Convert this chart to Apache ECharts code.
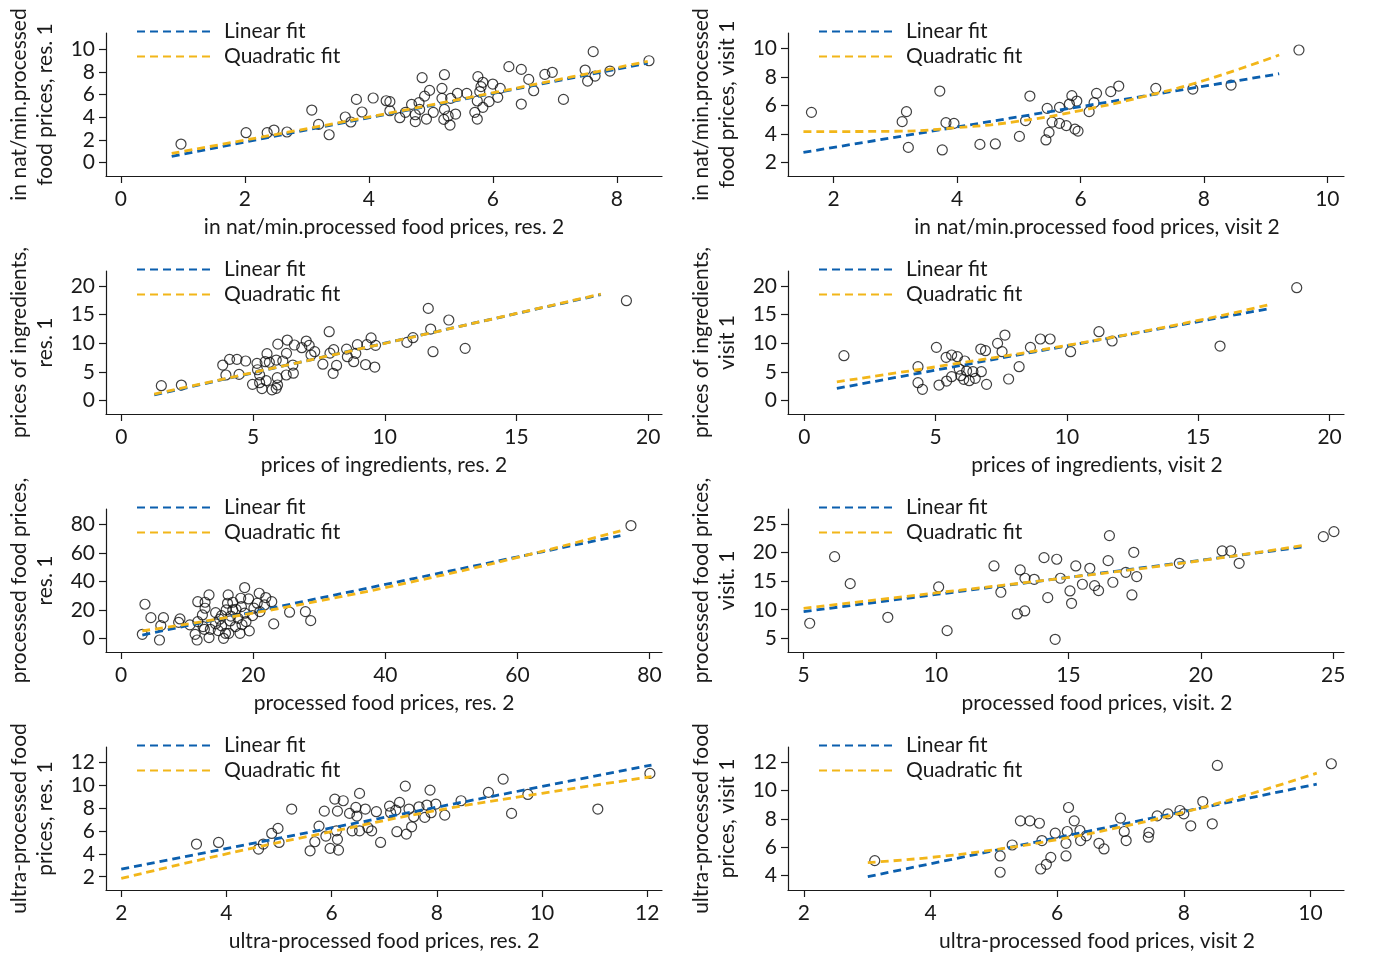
<!DOCTYPE html>
<html>
<head>
<meta charset="utf-8">
<script src="https://cdn.jsdelivr.net/npm/echarts@6/dist/echarts.min.js"></script>
<style>
html,body{margin:0;padding:0;background:#fff;}
#chart{width:1386px;height:953px;}
</style>
</head>
<body>
<div id="chart"></div>
<script>
// ---------- DATA ----------
const legendNames = ['Linear fit', 'Quadratic fit'];

const xTitles = [
  'in nat/min.processed food prices, res. 2',
  'in nat/min.processed food prices, visit 2',
  'prices of ingredients, res. 2',
  'prices of ingredients, visit 2',
  'processed food prices, res. 2',
  'processed food prices, visit. 2',
  'ultra-processed food prices, res. 2',
  'ultra-processed food prices, visit 2'
];
const yTitles = [
  'in nat/min.processed\nfood prices, res. 1',
  'in nat/min.processed\nfood prices, visit 1',
  'prices of ingredients,\nres. 1',
  'prices of ingredients,\nvisit 1',
  'processed food prices,\nres. 1',
  'processed food prices,\nvisit. 1',
  'ultra-processed food\nprices, res. 1',
  'ultra-processed food\nprices, visit 1'
];

const xTicks = [
  [0, 2, 4, 6, 8],
  [2, 4, 6, 8, 10],
  [0, 5, 10, 15, 20],
  [0, 5, 10, 15, 20],
  [0, 20, 40, 60, 80],
  [5, 10, 15, 20, 25],
  [2, 4, 6, 8, 10, 12],
  [2, 4, 6, 8, 10]
];
const yTicks = [
  [0, 2, 4, 6, 8, 10],
  [2, 4, 6, 8, 10],
  [0, 5, 10, 15, 20],
  [0, 5, 10, 15, 20],
  [0, 20, 40, 60, 80],
  [5, 10, 15, 20, 25],
  [2, 4, 6, 8, 10, 12],
  [4, 6, 8, 10, 12]
];
const xRanges = [[-0.24, 8.73], [1.26, 10.27], [-0.58, 20.52], [-0.62, 20.55], [-2.3, 81.9], [4.41, 25.41], [1.71, 12.28], [1.75, 10.53]];
const yRanges = [[-1.17, 11.41], [1.07, 11.07], [-2.32, 22.62], [-2.32, 22.62], [-9.6, 90.7], [2.6, 27.64], [0.84, 13.35], [2.99, 13.06]];

const p1Pts = [[0.97,1.64],[2.02,2.64],[2.36,2.64],[2.47,2.87],[2.68,2.7],[3.08,4.63],[3.19,3.37],[3.36,2.46],[3.62,4.02],[3.71,3.58],[3.8,5.57],[3.89,4.46],[4.07,5.69],[4.28,5.45],[4.34,5.37],[4.34,4.57],[4.5,3.96],[4.59,4.43],[4.69,5.13],[4.75,4.22],[4.75,3.61],[4.81,5.28],[4.82,4.69],[4.86,7.48],[4.9,5.86],[4.93,3.84],[4.98,6.36],[5.04,4.43],[5.18,6.54],[5.18,5.66],[5.22,7.74],[5.22,4.69],[5.21,3.81],[5.28,4.11],[5.31,3.31],[5.32,5.66],[5.43,6.1],[5.4,4.28],[5.58,6.1],[5.71,4.43],[5.76,7.57],[5.75,3.84],[5.75,5.43],[5.79,6.25],[5.81,6.69],[5.84,7.07],[5.84,4.87],[5.94,5.37],[6.0,6.92],[6.08,5.75],[6.12,6.54],[6.26,8.45],[6.46,8.21],[6.46,5.16],[6.58,7.33],[6.66,6.33],[6.84,7.77],[6.96,7.95],[7.14,5.57],[7.49,8.15],[7.53,7.18],[7.62,9.77],[7.65,7.62],[7.89,8.06],[8.52,8.97]];
const p1Lin = [[0.82,0.56],[8.5,8.76]];
const p1Quad = [[0.82,0.82],[4.6,4.65],[8.5,8.92]];

const p2Pts = [[1.64,5.52],[3.11,4.87],[3.18,5.57],[3.21,3.07],[3.72,7.01],[3.76,2.89],[3.82,4.8],[3.95,4.75],[4.37,3.28],[4.62,3.31],[5.01,3.84],[5.11,4.94],[5.18,6.66],[5.44,3.59],[5.46,5.8],[5.49,4.12],[5.54,4.84],[5.66,5.87],[5.66,4.75],[5.77,4.59],[5.82,6.1],[5.86,6.69],[5.91,4.35],[5.94,6.31],[5.96,4.21],[6.14,5.57],[6.22,6.2],[6.26,6.85],[6.49,6.97],[6.62,7.36],[7.22,7.2],[7.82,7.15],[8.44,7.43],[9.54,9.88]];
const p2Lin = [[1.51,2.72],[9.22,8.22]];
const p2Quad = [[1.51,4.17],[3,4.2],[4,4.45],[5,4.9],[6,5.65],[7,6.6],[8,7.75],[9.22,9.53]];

const p3Pts = [[1.52,2.62],[2.28,2.73],[3.85,6.22],[3.97,4.48],[4.11,7.21],[4.39,7.21],[4.47,4.59],[4.72,6.92],[4.98,2.85],[5.15,6.51],[5.17,5.4],[5.25,4.49],[5.25,3.14],[5.34,2.1],[5.46,6.8],[5.5,3.49],[5.53,8.2],[5.62,6.69],[5.72,1.9],[5.88,7.09],[5.92,4.01],[5.93,2.74],[5.88,2.16],[5.94,9.86],[6.13,6.92],[6.26,4.48],[6.27,8.26],[6.3,10.58],[6.51,6.22],[6.53,4.8],[6.57,9.71],[6.85,9.24],[7.02,10.4],[7.13,9.65],[7.2,7.97],[7.34,8.55],[7.65,6.37],[7.89,12.03],[7.92,8.29],[8.06,8.9],[8.04,4.78],[8.17,6.15],[8.55,9.0],[8.58,7.67],[8.82,6.8],[8.9,8.26],[8.96,9.78],[9.27,6.3],[9.32,9.78],[9.48,10.95],[9.65,9.65],[9.62,5.87],[10.84,10.17],[11.07,10.99],[11.65,16.1],[11.74,12.5],[11.83,8.55],[12.43,14.07],[13.05,9.13],[19.17,17.44]];
const p3Lin = [[1.25,1.0],[18.2,18.5]];
const p3Quad = [[1.25,1.15],[9.7,9.7],[18.2,18.6]];

const p4Pts = [[1.51,7.85],[4.33,5.93],[4.33,3.14],[4.5,1.98],[5.03,9.3],[5.13,2.73],[5.4,7.56],[5.42,3.43],[5.61,7.97],[5.61,4.19],[5.83,7.67],[5.9,5.52],[5.96,4.36],[6.07,3.72],[6.11,6.92],[6.18,5.17],[6.28,3.49],[6.42,5.06],[6.51,3.9],[6.72,9.01],[6.74,5.06],[6.9,8.72],[6.94,2.85],[7.36,10.0],[7.53,8.55],[7.64,11.45],[7.78,3.78],[8.18,5.93],[8.61,9.3],[8.99,10.76],[9.36,10.76],[10.14,8.55],[11.22,12.03],[11.72,10.41],[15.83,9.53],[18.75,19.71]];
const p4Lin = [[1.24,2.15],[17.74,16.1]];
const p4Quad = [[1.24,3.3],[5,5.9],[10,9.65],[15,14.0],[17.74,16.8]];

const p5Pts = [[3.2,2.8],[3.6,23.9],[4.5,14.5],[5.8,-1.2],[6.0,8.9],[6.4,14.5],[8.9,13.6],[8.7,11.2],[10.4,9.4],[11.2,2.8],[11.5,-1.2],[11.6,25.7],[11.6,11.7],[12.3,16.4],[12.6,6.3],[12.7,25.3],[12.7,21.1],[13.3,30.4],[13.3,0.5],[13.5,6.3],[14.3,18.0],[14.3,10.1],[14.7,5.4],[15.2,15.9],[15.2,8.7],[15.5,0.0],[15.8,3.5],[15.9,19.9],[16.2,30.4],[16.1,24.6],[16.3,3.5],[16.5,12.2],[16.9,25.3],[16.9,19.9],[17.3,8.2],[17.7,14.0],[18.0,3.5],[18.1,28.1],[18.2,22.2],[18.7,35.6],[18.7,17.6],[18.9,11.7],[19.3,27.6],[19.4,5.2],[19.9,15.9],[20.6,24.6],[20.9,31.6],[21.0,18.7],[21.7,23.4],[21.9,28.6],[22.8,25.7],[23.1,10.1],[25.5,18.3],[27.9,18.7],[28.7,12.4],[77.2,79.1],[12.4,8.2],[14.9,13.4],[16.6,15.6],[17.4,20.3],[18.3,9.6],[20.1,21.2]];
const p5Lin = [[3.2,2.3],[75.6,72.1]];
const p5Quad = [[3.2,5.2],[15,13.8],[30,26.3],[45,40.6],[60,56.7],[75.6,75.4]];

const p6Pts = [[5.23,7.63],[6.17,19.3],[6.76,14.57],[8.18,8.68],[10.1,13.99],[10.42,6.34],[12.19,17.67],[12.45,13.06],[13.07,9.26],[13.18,16.97],[13.35,9.79],[13.36,15.51],[13.71,15.33],[14.08,19.13],[14.22,12.12],[14.5,4.82],[14.56,18.84],[14.7,15.51],[15.06,13.29],[15.12,11.13],[15.28,17.67],[15.53,14.46],[15.81,17.26],[15.99,14.22],[16.14,13.35],[16.5,18.6],[16.55,22.98],[16.68,14.81],[17.17,16.56],[17.4,12.59],[17.47,20.06],[17.58,15.8],[19.19,18.13],[20.81,20.3],[21.13,20.3],[21.45,18.13],[24.63,22.8],[25.03,23.68]];
const p6Lin = [[5.0,9.67],[23.96,21.05]];
const p6Quad = [[5.0,10.25],[10,12.95],[15,15.65],[20,18.6],[23.96,21.35]];

const p7Pts = [[3.43,4.86],[3.85,5.0],[4.61,4.42],[4.7,4.86],[4.86,5.79],[4.98,6.23],[5.0,5.0],[5.24,7.92],[5.59,4.27],[5.68,5.06],[5.76,6.43],[5.86,7.74],[5.89,5.56],[5.97,4.48],[6.06,8.79],[6.09,6.02],[6.11,7.74],[6.11,5.27],[6.13,4.33],[6.22,8.65],[6.34,7.54],[6.39,6.02],[6.46,8.06],[6.48,7.31],[6.53,9.29],[6.53,6.02],[6.64,7.92],[6.69,6.29],[6.76,6.02],[6.85,7.69],[6.93,5.0],[7.1,8.18],[7.12,7.6],[7.22,7.83],[7.24,5.94],[7.29,8.5],[7.4,9.93],[7.42,5.73],[7.47,7.92],[7.52,6.37],[7.56,7.25],[7.66,8.12],[7.77,7.19],[7.81,8.27],[7.87,9.58],[7.89,7.6],[7.98,8.35],[8.15,7.39],[8.46,8.65],[8.98,9.38],[9.26,10.54],[9.42,7.54],[9.73,9.2],[11.06,7.92],[12.05,11.04]];
const p7Lin = [[2.0,2.67],[12.08,11.77]];
const p7Quad = [[2.0,1.85],[4,4.0],[6,5.95],[8,7.8],[10,9.3],[12.08,10.75]];

const p8Pts = [[3.12,5.06],[5.1,5.39],[5.1,4.24],[5.29,6.16],[5.42,7.86],[5.57,7.86],[5.72,7.69],[5.74,4.47],[5.76,6.47],[5.83,4.8],[5.9,5.29],[5.97,6.99],[6.14,6.28],[6.14,5.39],[6.16,7.11],[6.18,8.8],[6.27,7.86],[6.36,7.18],[6.37,6.47],[6.46,6.8],[6.66,6.28],[6.74,5.88],[7.0,8.05],[7.06,7.11],[7.09,6.47],[7.44,6.71],[7.45,7.04],[7.58,8.21],[7.75,8.35],[7.94,8.59],[8.0,8.35],[8.11,7.51],[8.3,9.22],[8.45,7.65],[8.53,11.76],[10.33,11.88]];
const p8Lin = [[3.01,3.93],[10.1,10.45]];
const p8Quad = [[3.01,4.92],[4,5.28],[5,5.82],[6,6.54],[7,7.42],[8,8.47],[9,9.69],[10.1,11.22]];

const scatterData = [p1Pts, p2Pts, p3Pts, p4Pts, p5Pts, p6Pts, p7Pts, p8Pts];
const linData = [p1Lin, p2Lin, p3Lin, p4Lin, p5Lin, p6Lin, p7Lin, p8Lin];
const quadData = [p1Quad, p2Quad, p3Quad, p4Quad, p5Quad, p6Quad, p7Quad, p8Quad];

// ---------- LAYOUT / STYLE ----------
const FONT = 'Lato';
const FS = 21;
const TXT = '#1a1a1a';
const BLUE = '#0b5fae';
const YELLOW = '#f2b619';
const colLeft = [106, 788];
const xNameShift = [0, 62];
const plotW = 556;
const plotH = 143;
const rowTop0 = 33;
const rowStep = 238;

const grids = [], xAxes = [], yAxes = [], series = [], legends = [];
for (let i = 0; i < 8; i++) {
  const c = i % 2, r = Math.floor(i / 2);
  const top = rowTop0 + r * rowStep;
  grids.push({left: colLeft[c], top: top, width: plotW, height: plotH});
  const axisCommon = {
    axisLine: {show: true, onZero: false, lineStyle: {color: TXT, width: 1.2}},
    splitLine: {show: false},
    nameLocation: 'middle'
  };
  xAxes.push(Object.assign({}, axisCommon, {
    type: 'value', gridIndex: i, min: xRanges[i][0], max: xRanges[i][1],
    axisTick: {show: true, length: 7, customValues: xTicks[i], lineStyle: {color: TXT, width: 1.2}},
    axisLabel: {customValues: xTicks[i], margin: 13, fontFamily: FONT, fontSize: FS, color: TXT},
    name: xTitles[i], nameGap: 41,
    nameTextStyle: {fontFamily: FONT, fontSize: FS, color: TXT, padding: [0, 0, 0, xNameShift[c]]}
  }));
  yAxes.push(Object.assign({}, axisCommon, {
    type: 'value', gridIndex: i, min: yRanges[i][0], max: yRanges[i][1],
    axisTick: {show: true, length: 7, customValues: yTicks[i], lineStyle: {color: TXT, width: 1.2}},
    axisLabel: {customValues: yTicks[i], margin: 11, fontFamily: FONT, fontSize: FS, color: TXT},
    name: yTitles[i], nameGap: 48, nameRotate: 90,
    nameTextStyle: {fontFamily: FONT, fontSize: FS, color: TXT, lineHeight: 26}
  }));
  series.push({
    type: 'scatter', xAxisIndex: i, yAxisIndex: i, data: scatterData[i],
    symbol: 'circle', symbolSize: 10,
    itemStyle: {color: 'rgba(255,255,255,0)', borderColor: '#111', borderWidth: 1.2},
    silent: true, z: 2
  });
  series.push({
    name: legendNames[0], type: 'line', xAxisIndex: i, yAxisIndex: i, data: linData[i],
    symbol: 'none', showSymbol: false,
    lineStyle: {color: BLUE, width: 2.8, type: [8, 5]}, itemStyle: {color: BLUE},
    silent: true, z: 3
  });
  series.push({
    name: legendNames[1], type: 'line', xAxisIndex: i, yAxisIndex: i, data: quadData[i],
    symbol: 'none', showSymbol: false, smooth: true,
    lineStyle: {color: YELLOW, width: 2.8, type: [8, 5]}, itemStyle: {color: YELLOW},
    silent: true, z: 4
  });
  legends.push({
    data: legendNames, orient: 'vertical', selectedMode: false,
    left: colLeft[c] + 30, top: top - 12,
    itemWidth: 77, itemHeight: 14, itemGap: 4,
    itemStyle: {opacity: 0},
    textStyle: {fontFamily: FONT, fontSize: FS, color: TXT, lineHeight: 20, padding: [0, 0, 0, 5]},
    padding: 0
  });
}

const chart = echarts.init(document.getElementById('chart'), null, {renderer: 'canvas'});
chart.setOption({
  animation: false,
  backgroundColor: '#fff',
  grid: grids,
  xAxis: xAxes,
  yAxis: yAxes,
  legend: legends,
  series: series
});
</script>
</body>
</html>
